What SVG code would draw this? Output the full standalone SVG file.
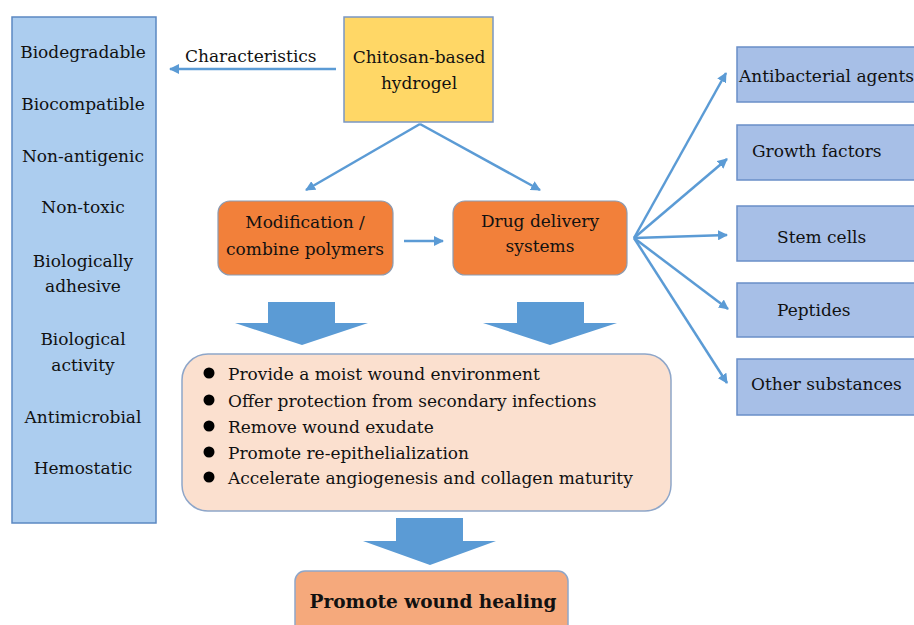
<svg xmlns="http://www.w3.org/2000/svg" width="914" height="625" viewBox="0 0 914 625">
<defs>
<marker id="ah" viewBox="0 0 10 10" refX="9" refY="5" markerWidth="4" markerHeight="4" orient="auto" markerUnits="strokeWidth">
<path d="M0,0 L10,5 L0,10 z" fill="#5b9bd5"/>
</marker>
</defs>
<style>
text{font-size:17px;fill:#111;font-family:"DejaVu Serif",serif}
.c{text-anchor:middle}
.conn{stroke:#5b9bd5;stroke-width:2.5;fill:none;marker-end:url(#ah)}
.blk{fill:#5b9bd5}
.lb{fill:#accdef;stroke:#5b88c2;stroke-width:1.5}
.rb{fill:#a7bfe7;stroke:#6a8fc8;stroke-width:1.5}
.or{fill:#f2803a;stroke:#8a9bb3;stroke-width:1.2}
</style>
<rect width="914" height="625" fill="#fff"/>
<g id="characteristics-list">
<rect class="lb" x="12" y="17" width="144" height="506"/>
<text class="c" x="83" y="58">Biodegradable</text>
<text class="c" x="83" y="110">Biocompatible</text>
<text class="c" x="83" y="162">Non-antigenic</text>
<text class="c" x="83" y="213">Non-toxic</text>
<text class="c" x="83" y="267">Biologically</text>
<text class="c" x="83" y="292">adhesive</text>
<text class="c" x="83" y="345">Biological</text>
<text class="c" x="83" y="371">activity</text>
<text class="c" x="83" y="423">Antimicrobial</text>
<text class="c" x="83" y="474">Hemostatic</text>
</g>
<g id="chitosan">
<rect x="344" y="17" width="149" height="105" fill="#ffd766" stroke="#7a97c4" stroke-width="1.5"/>
<text class="c" x="419" y="63">Chitosan-based</text>
<text class="c" x="419" y="89">hydrogel</text>
</g>
<g id="modification">
<rect class="or" x="218" y="201" width="175" height="74" rx="12"/>
<text class="c" x="305" y="228">Modification /</text>
<text class="c" x="305" y="255">combine polymers</text>
</g>
<g id="drug-delivery">
<rect class="or" x="453" y="201" width="174" height="74" rx="12"/>
<text class="c" x="540" y="227">Drug delivery</text>
<text class="c" x="540" y="252">systems</text>
</g>
<g id="antibacterial">
<rect class="rb" x="737" y="47" width="190" height="55"/>
<text x="739" y="82">Antibacterial agents</text>
</g>
<g id="growth-factors">
<rect class="rb" x="737" y="125" width="190" height="55"/>
<text x="752" y="157">Growth factors</text>
</g>
<g id="stem-cells">
<rect class="rb" x="737" y="206" width="190" height="55"/>
<text x="777" y="243">Stem cells</text>
</g>
<g id="peptides">
<rect class="rb" x="737" y="283" width="190" height="54"/>
<text x="777" y="316">Peptides</text>
</g>
<g id="other-substances">
<rect class="rb" x="737" y="359" width="190" height="56"/>
<text x="751" y="390">Other substances</text>
</g>
<g id="effects">
<rect x="182" y="354" width="489" height="157" rx="26" fill="#fbe0cf" stroke="#8ea6c9" stroke-width="1.5"/>
<g fill="#000">
<circle cx="209" cy="373" r="5.5"/>
<circle cx="209" cy="400" r="5.5"/>
<circle cx="209" cy="426" r="5.5"/>
<circle cx="209" cy="452" r="5.5"/>
<circle cx="209" cy="477" r="5.5"/>
</g>
<text x="228" y="380">Provide a moist wound environment</text>
<text x="228" y="407">Offer protection from secondary infections</text>
<text x="228" y="433">Remove wound exudate</text>
<text x="228" y="459">Promote re-epithelialization</text>
<text x="228" y="484">Accelerate angiogenesis and collagen maturity</text>
</g>
<g id="promote-healing">
<rect x="295" y="571" width="273" height="70" rx="10" fill="#f5a97c" stroke="#8ea6c9" stroke-width="1.5"/>
<text class="c" x="433" y="608" style="font-weight:bold;font-size:18.5px">Promote wound healing</text>
</g>
<g id="connectors">
<line class="conn" x1="336" y1="69" x2="170" y2="69"/>
<text x="185" y="62">Characteristics</text>
<line class="conn" x1="420" y1="124" x2="306" y2="190"/>
<line class="conn" x1="420" y1="124" x2="540" y2="190"/>
<line class="conn" x1="404" y1="241" x2="443" y2="241"/>
<line class="conn" x1="634" y1="238" x2="726" y2="73"/>
<line class="conn" x1="634" y1="238" x2="727" y2="159"/>
<line class="conn" x1="634" y1="238" x2="727" y2="235"/>
<line class="conn" x1="634" y1="238" x2="728" y2="309"/>
<line class="conn" x1="634" y1="238" x2="727" y2="383"/>
<polygon class="blk" points="268,302 335,302 335,323 368,323 302,345 235,323 268,323"/>
<polygon class="blk" points="517,302 584,302 584,323 617,323 550,345 483,323 517,323"/>
<polygon class="blk" points="396,518 463,518 463,541 496,541 430,565 363,541 396,541"/>
</g>
</svg>
